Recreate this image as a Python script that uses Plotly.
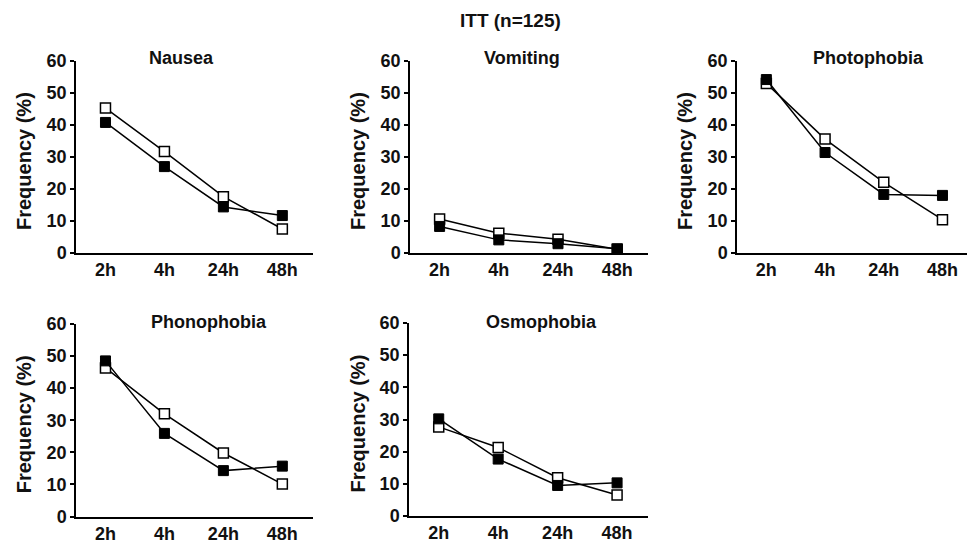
import plotly.graph_objects as go

timepoints = ["2h", "4h", "24h", "48h"]
panel_titles = ["Nausea", "Vomiting", "Photophobia", "Phonophobia", "Osmophobia"]

nausea_open = [45.3, 31.7, 17.6, 7.5]
nausea_filled = [40.8, 27.0, 14.4, 11.7]
vomiting_open = [10.6, 6.2, 4.3, 1.2]
vomiting_filled = [8.3, 4.1, 2.9, 1.3]
photophobia_open = [53.0, 35.6, 22.1, 10.4]
photophobia_filled = [54.2, 31.4, 18.3, 18.0]
phonophobia_open = [46.3, 32.0, 19.8, 10.1]
phonophobia_filled = [48.5, 25.9, 14.3, 15.7]
osmophobia_open = [27.7, 21.3, 11.9, 6.5]
osmophobia_filled = [30.2, 17.7, 9.5, 10.3]

y_ticks = [0, 10, 20, 30, 40, 50, 60]

series_open = [nausea_open, vomiting_open, photophobia_open, phonophobia_open, osmophobia_open]
series_filled = [nausea_filled, vomiting_filled, photophobia_filled, phonophobia_filled, osmophobia_filled]

W, H = 975, 540
OFF = 8  # page body margin offset
FONT = "Arial, Liberation Sans, Helvetica, sans-serif"

# pixel boxes (left, right, top, bottom) of each panel's plot area (page pixels)
boxes = [
    (76, 313, 61, 253),
    (410, 648, 61, 253),
    (737, 973, 61, 253),
    (76, 313, 324, 516.5),
    (409, 648, 323, 516),
]
title_pos = [(181, 58), (522, 58), (868, 58), (209, 322), (541, 322)]


def px(x):
    return (x - OFF) / W


def py(y):
    return 1 - (y - OFF) / H


fig = go.Figure()
layout = dict(
    template="none",
    width=W, height=H,
    margin=dict(l=0, r=0, t=0, b=0, pad=0),
    paper_bgcolor="white", plot_bgcolor="white",
    showlegend=False,
    font=dict(family=FONT, color="#111111"),
)
annotations = []

for i, (l, r, t, b) in enumerate(boxes):
    n = i + 1
    xa = "x" if n == 1 else f"x{n}"
    ya = "y" if n == 1 else f"y{n}"
    line = dict(color="black", width=1.5)
    fig.add_trace(go.Scatter(
        x=timepoints, y=series_open[i], xaxis=xa, yaxis=ya, mode="lines+markers",
        line=line, cliponaxis=False,
        marker=dict(symbol="square", size=10, color="white", line=dict(color="black", width=1.5)),
    ))
    fig.add_trace(go.Scatter(
        x=timepoints, y=series_filled[i], xaxis=xa, yaxis=ya, mode="lines+markers",
        line=line, cliponaxis=False,
        marker=dict(symbol="square", size=10, color="black", line=dict(color="black", width=1)),
    ))
    xkey = "xaxis" if n == 1 else f"xaxis{n}"
    ykey = "yaxis" if n == 1 else f"yaxis{n}"
    layout[xkey] = dict(
        domain=[px(l), px(r)], anchor=ya, type="category", automargin=False,
        range=[-0.5, 3.52], showline=True, linecolor="black", linewidth=1.5,
        showgrid=False, zeroline=False, ticks="", fixedrange=True,
        tickfont=dict(size=18, weight="bold", family=FONT, color="#111111"),
    )
    layout[ykey] = dict(
        domain=[py(b), py(t)], anchor=xa, range=[0, 60], automargin=False,
        tickvals=y_ticks, showline=True, linecolor="black", linewidth=1.5,
        showgrid=False, zeroline=False, ticks="outside", ticklen=4,
        tickwidth=1.5, tickcolor="black", fixedrange=True,
        tickfont=dict(size=18, weight="bold", family=FONT, color="#111111"),
    )
    tx, ty = title_pos[i]
    annotations.append(dict(
        text=panel_titles[i], x=px(tx), y=py(ty), xref="paper", yref="paper",
        showarrow=False, xanchor="center", yanchor="middle",
        font=dict(size=18, weight="bold", family=FONT, color="#111111"),
    ))
    annotations.append(dict(
        text="Frequency (%)", x=px(l - 52), y=py((t + b) / 2 + 4),
        xref="paper", yref="paper", showarrow=False, textangle=-90,
        xanchor="center", yanchor="middle",
        font=dict(size=20, weight="bold", family=FONT, color="#111111"),
    ))

annotations.append(dict(
    text="ITT (n=125)", x=px(511), y=py(21), xref="paper", yref="paper",
    showarrow=False, xanchor="center", yanchor="middle",
    font=dict(size=19, weight="bold", family=FONT, color="#111111"),
))
layout["annotations"] = annotations
fig.update_layout(**layout)
fig.write_html("out.html")
